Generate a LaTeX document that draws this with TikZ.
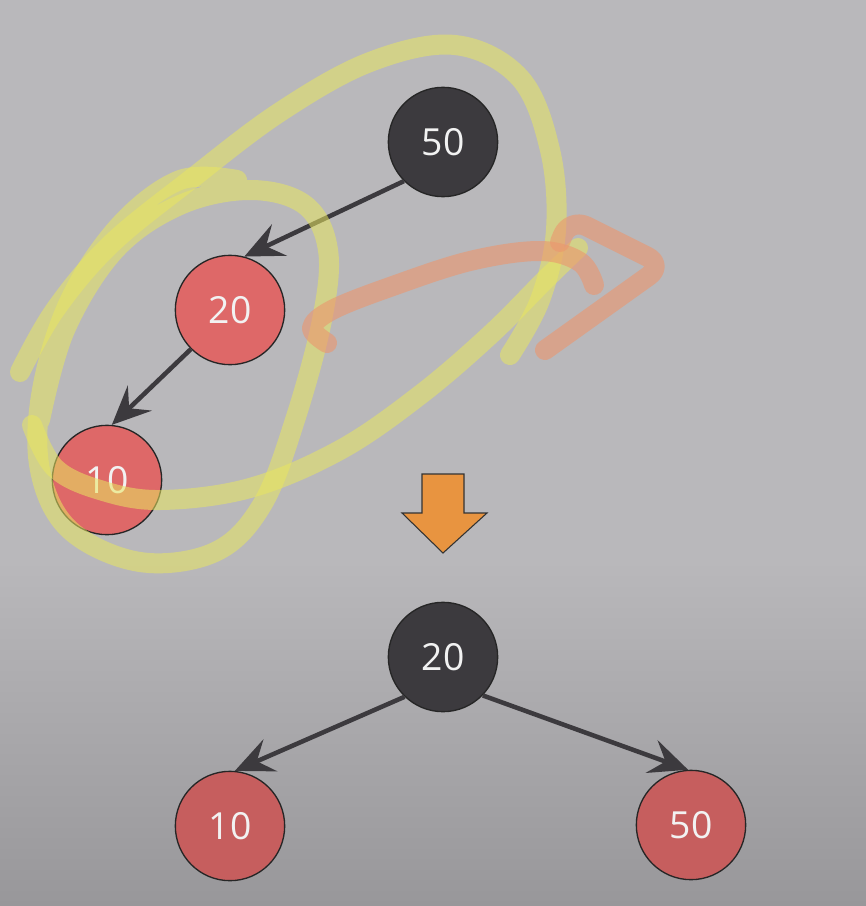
\documentclass[tikz,border=0pt]{standalone}
\usepackage{fontspec}
\setmainfont{Open Sans}
\usepackage{tikz}
\usetikzlibrary{arrows.meta}

\definecolor{bgtop}{RGB}{185,184,187}
\definecolor{bgbot}{RGB}{152,151,154}
\definecolor{nodeblack}{RGB}{60,58,62}
\definecolor{nodered}{RGB}{222,104,104}
\definecolor{nodereddark}{RGB}{198,94,94}
\definecolor{edgegray}{RGB}{60,58,62}
\definecolor{penyellow}{RGB}{232,230,96}
\definecolor{penorange}{RGB}{235,150,110}
\definecolor{arroworange}{RGB}{232,148,64}

\begin{document}
\begin{tikzpicture}[
    x=0.75pt, y=-0.75pt,
    every node/.style={font=\fontsize{28}{32}\selectfont, text={rgb,255:red,242;green,242;blue,242}},
    treenode/.style={circle, draw=black!85, line width=1pt, minimum size=82pt, inner sep=0pt},
    blacknode/.style={treenode, fill=nodeblack},
    rednode/.style={treenode, fill=nodered},
    link/.style={-{Stealth[length=29pt, width=26pt, inset=11pt]}, line width=3.4pt, draw=edgegray},
    scribble/.style={draw=penyellow, opacity=0.55, line width=15pt, line cap=round, line join=round},
    turnstroke/.style={draw=penorange, opacity=0.6, line width=15pt, line cap=round, line join=round}
]
% background
\useasboundingbox (0,0) rectangle (866,906);
\fill [bgtop] (0,0) rectangle (866,906);
\shade [top color=bgtop, bottom color=bgbot] (0,560) rectangle (866,906);

% tree before rotation
\node (top50) [blacknode] at (443,142) {50};
\node (top20) [rednode] at (230,310) {20};
\node (top10) [rednode] at (107,480) {10};
\draw [link] (top50.225) -- (top20.75);
\draw [link] (top20.225) -- (top10.85);

% hand-drawn marks
\draw [scribble] plot [smooth, tension=0.6] coordinates {(20,372) (55,310) (110,245) (190,180) (280,112) (370,62) (455,45) (520,78) (550,150) (556,230) (540,300) (510,355)};
\draw [scribble] plot [smooth, tension=0.6] coordinates {(237,180) (180,180) (120,225) (70,300) (42,390) (40,470) (70,530) (140,562) (215,552) (262,505) (295,420) (322,320) (328,250) (305,205) (250,190) (180,205) (115,250) (65,330) (40,420)};
\draw [scribble] plot [smooth, tension=0.6] coordinates {(32,425) (55,468) (100,490) (160,500) (250,488) (340,450) (420,395) (490,335) (545,280) (578,248)};
\draw [turnstroke] plot [smooth, tension=0.6] coordinates {(327,343) (312,328) (332,310) (390,287) (470,261) (540,251) (580,262) (594,285)};
\draw [turnstroke, rounded corners=14pt] (560,242) -- (570,218) -- (664,265) -- (545,350);

% down arrow
\draw [fill=arroworange, draw=black!80, line width=0.8pt] (422,474) -- (464,474) -- (464,513) -- (487,513) -- (443,553) -- (402,513) -- (422,513) -- cycle;

% tree after rotation
\node (bot20) [blacknode] at (443,657) {20};
\node (bot10) [rednode, fill=nodereddark] at (230,826) {10};
\node (bot50) [rednode, fill=nodereddark] at (691,825) {50};
\draw [link] (bot20.226) -- (bot10.85);
\draw [link] (bot20.316) -- (bot50.93);
\end{tikzpicture}
\end{document}
